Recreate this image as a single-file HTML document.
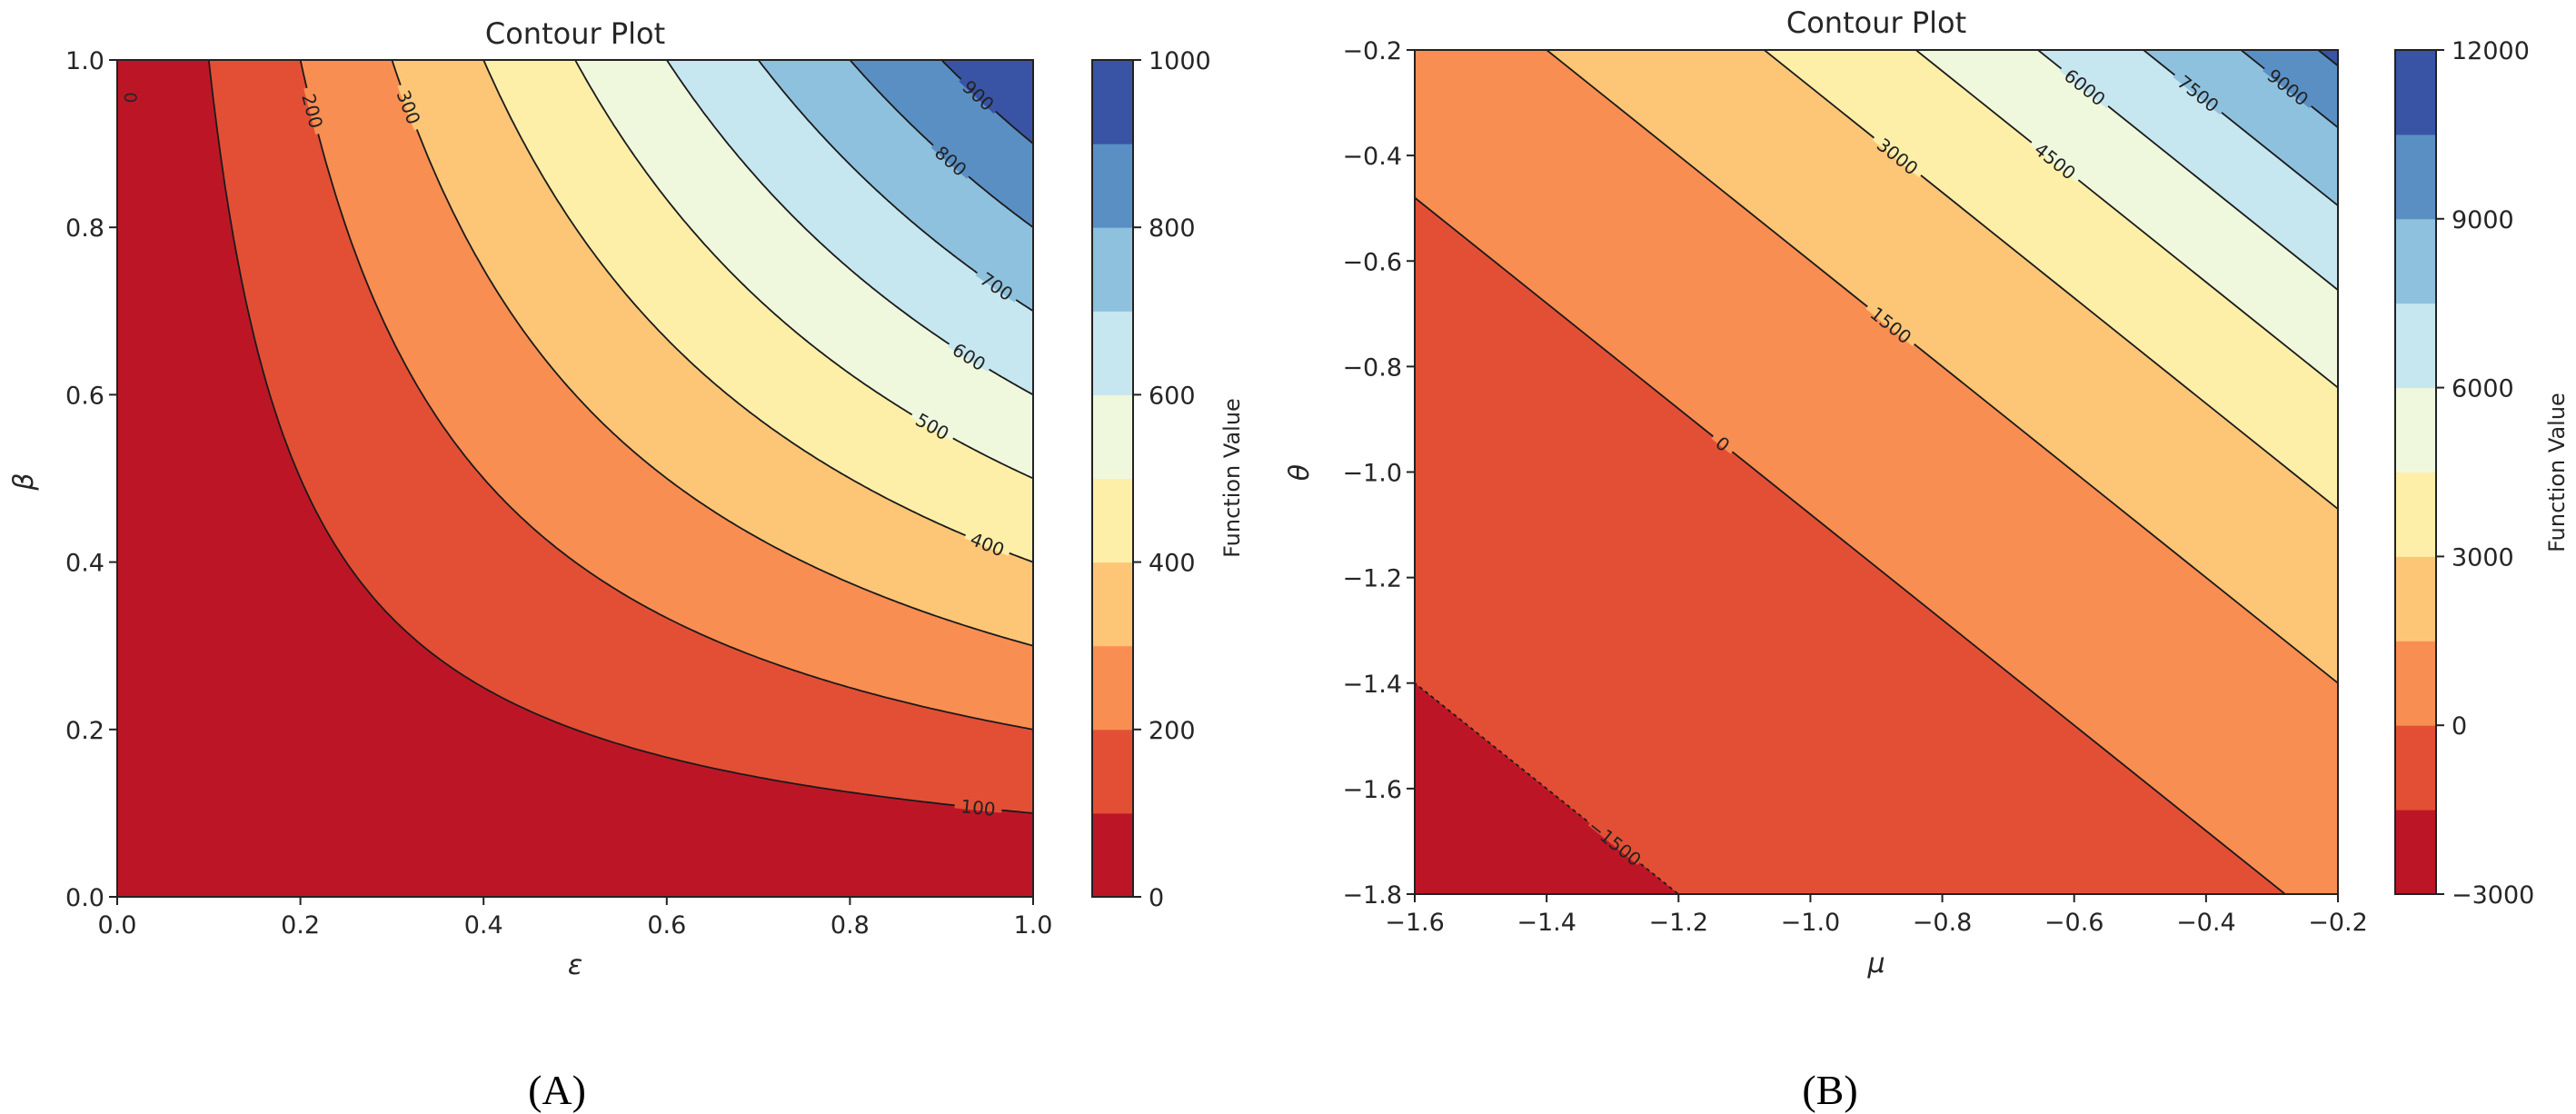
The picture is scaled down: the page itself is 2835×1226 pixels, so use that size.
<!DOCTYPE html>
<html><head><meta charset="utf-8"><style>
html,body{margin:0;padding:0;background:#fff;width:2835px;height:1226px;overflow:hidden;}
svg{display:block;font-family:"DejaVu Sans","Liberation Sans",sans-serif;}
</style></head><body>
<svg id="fig" width="2835" height="1226" viewBox="0 0 2835 1226" xmlns="http://www.w3.org/2000/svg"></svg>
<script>
// ---- shared colour bands (RdYlBu, 10 bands) ----
const bandColors = ["#bc1626","#e34f35","#f98e52","#fdc677","#feefa8","#eff8dd","#c6e6f0","#8ec1de","#5a8fc4","#3953a5"];
// ---- Panel A data: f = coefA * eps * beta ----
const levelsA = [0,100,200,300,400,500,600,700,800,900,1000];
const coefA = 1000;
const lineLevelsA = [100,200,300,400,500,600,700,800,900];
const labelLevelsA = [100,200,300,400,500,600,700,800,900];
const labelEpsA = [0.94,0.213,0.318,0.95,0.89,0.93,0.96,0.91,0.94];
const xTicksA = [0,0.2,0.4,0.6,0.8,1.0];
const xTickLabelsA = ["0.0","0.2","0.4","0.6","0.8","1.0"];
const yTicksA = [0,0.2,0.4,0.6,0.8,1.0];
const yTickLabelsA = ["0.0","0.2","0.4","0.6","0.8","1.0"];
const cbTicksA = [0,200,400,600,800,1000];
// ---- Panel B data: contours are lines of constant s = mu + theta ----
const levelsB = [-3000,-1500,0,1500,3000,4500,6000,7500,9000,10500,12000];
const lineLevelsB = [-1500,0,1500,3000,4500,6000,7500,9000,10500];
const lineSB = [-3.0,-2.08,-1.6,-1.27,-1.04,-0.855,-0.695,-0.547,-0.43];
const labelLevelsB = [-1500,0,1500,3000,4500,6000,7500,9000];
const labelMuB = [-1.297,-1.133,-0.878,-0.868,-0.629,-0.584,-0.412,-0.276];
const xTicksB = [-1.6,-1.4,-1.2,-1.0,-0.8,-0.6,-0.4,-0.2];
const xTickLabelsB = ["\u22121.6","\u22121.4","\u22121.2","\u22121.0","\u22120.8","\u22120.6","\u22120.4","\u22120.2"];
const yTicksB = [-1.8,-1.6,-1.4,-1.2,-1.0,-0.8,-0.6,-0.4,-0.2];
const yTickLabelsB = ["\u22121.8","\u22121.6","\u22121.4","\u22121.2","\u22121.0","\u22120.8","\u22120.6","\u22120.4","\u22120.2"];
const cbTicksB = [-3000,0,3000,6000,9000,12000];
const cbTickLabelsB = ["\u22123000","0","3000","6000","9000","12000"];

const NS="http://www.w3.org/2000/svg";
const svg=document.getElementById('fig');
function mk(tag,attrs,parent){const e=document.createElementNS(NS,tag);for(const k in attrs)e.setAttribute(k,attrs[k]);(parent||svg).appendChild(e);return e;}
function txt(s,x,y,size,anchor,parent,extra){const t=mk('text',Object.assign({x:x,y:y,'font-size':size,'text-anchor':anchor||'middle',fill:'#262626'},extra||{}),parent);t.textContent=s;return t;}
function bandColor(levels,v){for(let i=0;i<levels.length-1;i++){if(v<levels[i+1])return bandColors[i];}return bandColors[bandColors.length-1];}

// ================= Panel A =================
const A={x0:129,x1:1137,y0:66,y1:987,xmin:0,xmax:1,ymin:0,ymax:1};
const xA=v=>A.x0+(v-A.xmin)/(A.xmax-A.xmin)*(A.x1-A.x0);
const yA=v=>A.y1-(v-A.ymin)/(A.ymax-A.ymin)*(A.y1-A.y0);
const gA=mk('g',{});


const clipA=mk('clipPath',{id:'clipA'},gA);mk('rect',{x:A.x0,y:A.y0,width:A.x1-A.x0,height:A.y1-A.y0},clipA);
const fillA=mk('g',{'clip-path':'url(#clipA)'},gA);


mk('rect',{x:A.x0,y:A.y0,width:A.x1-A.x0,height:A.y1-A.y0,fill:bandColors[9]},fillA);
function curveA(L){const pts=[];const e0=Math.max(L/coefA,1e-4);const N=200;for(let i=0;i<=N;i++){const e=e0+(1-e0)*i/N;pts.push([e,Math.min(1,L/(coefA*e))]);}return pts;}
for(let k=lineLevelsA.length-1;k>=0;k--){
  const L=lineLevelsA[k];const pts=curveA(L);
  let d=`M${xA(0)},${yA(0)} L${xA(0)},${yA(1)}`;
  pts.forEach(p=>{d+=` L${xA(p[0]).toFixed(1)},${yA(p[1]).toFixed(1)}`;});
  d+=` L${xA(1)},${yA(0)} Z`;
  const p=mk('path',{d:d,fill:bandColor(levelsA,L-1)},fillA);
  
  
}
for(let k=0;k<lineLevelsA.length;k++){
  const L=lineLevelsA[k];const pts=curveA(L);
  const d='M'+pts.map(p=>xA(p[0]).toFixed(1)+','+yA(p[1]).toFixed(1)).join(' L');
  const p=mk('path',{d:d,fill:'none',stroke:'#1a1a1a','stroke-width':1.8},fillA);
  
  
}
for(let k=0;k<labelLevelsA.length;k++){
  const L=labelLevelsA[k],e=labelEpsA[k],b=L/(coefA*e);
  const px=xA(e),py=yA(b);
  const dx=xA(e+0.01)-xA(e),dy=yA(L/(coefA*(e+0.01)))-py;
  const ang=Math.atan2(dy,dx)*180/Math.PI;
  mk('rect',{x:px-26,y:py-3,width:52,height:6,fill:bandColor(levelsA,L+1),transform:`rotate(${ang} ${px} ${py})`},fillA);
  const t=txt(String(L),px,py+7,20,'middle',fillA,{transform:`rotate(${ang} ${px} ${py})`,fill:'#222'});
  
  
}
{const t=txt('0',xA(0.008),yA(0.955),19,'middle',fillA,{transform:`rotate(90 ${xA(0.008)} ${yA(0.955)})`});

}
const frA=mk('rect',{x:A.x0,y:A.y0,width:A.x1-A.x0,height:A.y1-A.y0,fill:'none',stroke:'#222','stroke-width':2},gA);


xTicksA.forEach((v,i)=>{mk('line',{x1:xA(v),x2:xA(v),y1:A.y1,y2:A.y1+9,stroke:'#222','stroke-width':2},gA);
  const t=txt(xTickLabelsA[i],xA(v),A.y1+40,27,'middle',gA);
  
  });
yTicksA.forEach((v,i)=>{mk('line',{x1:A.x0-9,x2:A.x0,y1:yA(v),y2:yA(v),stroke:'#222','stroke-width':2},gA);
  const t=txt(yTickLabelsA[i],A.x0-14,yA(v)+10,27,'end',gA);
  
  });
{const t=txt('Contour Plot',(A.x0+A.x1)/2,48,32,'middle',gA);}
{const t=txt('\u03b5',(A.x0+A.x1)/2,1072,30,'middle',gA,{'font-style':'italic'});}
{const t=txt('\u03b2',36,530,30,'middle',gA,{'font-style':'italic',transform:'rotate(-90 36 530)'});}
// colorbar A
const CA={x0:1202,x1:1247,y0:66,y1:987};
const cyA=v=>CA.y1-(v-levelsA[0])/(levelsA[levelsA.length-1]-levelsA[0])*(CA.y1-CA.y0);
const cbA=mk('g',{},gA);
for(let i=0;i<levelsA.length-1;i++){mk('rect',{x:CA.x0,y:cyA(levelsA[i+1]),width:CA.x1-CA.x0,height:cyA(levelsA[i])-cyA(levelsA[i+1])+0.5,fill:bandColors[i]},cbA);}
mk('rect',{x:CA.x0,y:CA.y0,width:CA.x1-CA.x0,height:CA.y1-CA.y0,fill:'none',stroke:'#222','stroke-width':2},cbA);
cbTicksA.forEach(v=>{mk('line',{x1:CA.x1,x2:CA.x1+9,y1:cyA(v),y2:cyA(v),stroke:'#222','stroke-width':2},cbA);
  const t=txt(String(v),CA.x1+17,cyA(v)+10,27,'start',cbA);});
{const t=txt('Function Value',1364,526,24,'middle',cbA,{transform:'rotate(-90 1364 526)'});}
{const t=mk('text',{x:613,y:1215,'font-size':46,'text-anchor':'middle',fill:'#000','font-family':'Liberation Serif, serif'},gA);t.textContent='(A)';}

// ================= Panel B =================
const B={x0:1557,x1:2573,y0:55,y1:984,xmin:-1.6,xmax:-0.2,ymin:-1.8,ymax:-0.2};
const xB=v=>B.x0+(v-B.xmin)/(B.xmax-B.xmin)*(B.x1-B.x0);
const yB=v=>B.y1-(v-B.ymin)/(B.ymax-B.ymin)*(B.y1-B.y0);
const gB=mk('g',{});


const clipB=mk('clipPath',{id:'clipB'},gB);mk('rect',{x:B.x0,y:B.y0,width:B.x1-B.x0,height:B.y1-B.y0},clipB);
const fillB=mk('g',{'clip-path':'url(#clipB)'},gB);


mk('rect',{x:B.x0,y:B.y0,width:B.x1-B.x0,height:B.y1-B.y0,fill:bandColors[9]},fillB);
function lineEnds(s){const m0=B.xmin-1,m1=B.xmax+1;return [[m0,s-m0],[m1,s-m1]];}
for(let k=lineLevelsB.length-1;k>=0;k--){
  const s=lineSB[k],e=lineEnds(s);
  const d=`M${xB(e[0][0])},${yB(e[0][1])} L${xB(e[1][0])},${yB(e[1][1])} L${xB(B.xmin-1)},${yB(e[1][1])} Z`;
  const p=mk('path',{d:d,fill:bandColor(levelsB,lineLevelsB[k]-1)},fillB);
  
  
}
for(let k=0;k<lineLevelsB.length;k++){
  const s=lineSB[k],e=lineEnds(s);
  const attrs={x1:xB(e[0][0]),y1:yB(e[0][1]),x2:xB(e[1][0]),y2:yB(e[1][1]),stroke:'#1a1a1a','stroke-width':1.8};
  if(lineLevelsB[k]<0)attrs['stroke-dasharray']='4 4';
  const l=mk('line',attrs,fillB);
  
  
}
const angB=Math.atan2(yB(-1)-yB(0),xB(1)-xB(0))*180/Math.PI;
for(let k=0;k<labelLevelsB.length;k++){
  const L=labelLevelsB[k],s=lineSB[lineLevelsB.indexOf(L)],m=labelMuB[k];
  const px=xB(m),py=yB(s-m);
  const w=L<0?70:(String(L).length*13+14);
  mk('rect',{x:px-w/2,y:py-3,width:w,height:6,fill:bandColor(levelsB,L+1),transform:`rotate(${angB} ${px} ${py})`},fillB);
  const t=txt(L<0?'\u2212'+Math.abs(L):String(L),px,py+7,20,'middle',fillB,{transform:`rotate(${angB} ${px} ${py})`,fill:'#222'});
  
  
}
const frB=mk('rect',{x:B.x0,y:B.y0,width:B.x1-B.x0,height:B.y1-B.y0,fill:'none',stroke:'#222','stroke-width':2},gB);


xTicksB.forEach((v,i)=>{mk('line',{x1:xB(v),x2:xB(v),y1:B.y1,y2:B.y1+9,stroke:'#222','stroke-width':2},gB);
  const t=txt(xTickLabelsB[i],xB(v),B.y1+40,27,'middle',gB);});
yTicksB.forEach((v,i)=>{mk('line',{x1:B.x0-9,x2:B.x0,y1:yB(v),y2:yB(v),stroke:'#222','stroke-width':2},gB);
  const t=txt(yTickLabelsB[i],B.x0-14,yB(v)+10,27,'end',gB);});
{const t=txt('Contour Plot',(B.x0+B.x1)/2,36,32,'middle',gB);}
{const t=txt('\u03bc',(B.x0+B.x1)/2,1070,30,'middle',gB,{'font-style':'italic'});}
{const t=txt('\u03b8',1440,520,30,'middle',gB,{'font-style':'italic',transform:'rotate(-90 1440 520)'});}
const CB={x0:2636,x1:2681,y0:55,y1:984};
const cyB=v=>CB.y1-(v-levelsB[0])/(levelsB[levelsB.length-1]-levelsB[0])*(CB.y1-CB.y0);
const cbB=mk('g',{},gB);
for(let i=0;i<levelsB.length-1;i++){mk('rect',{x:CB.x0,y:cyB(levelsB[i+1]),width:CB.x1-CB.x0,height:cyB(levelsB[i])-cyB(levelsB[i+1])+0.5,fill:bandColors[i]},cbB);}
mk('rect',{x:CB.x0,y:CB.y0,width:CB.x1-CB.x0,height:CB.y1-CB.y0,fill:'none',stroke:'#222','stroke-width':2},cbB);
cbTicksB.forEach((v,i)=>{mk('line',{x1:CB.x1,x2:CB.x1+9,y1:cyB(v),y2:cyB(v),stroke:'#222','stroke-width':2},cbB);
  const t=txt(cbTickLabelsB[i],CB.x1+17,cyB(v)+10,27,'start',cbB);});
{const t=txt('Function Value',2822,520,24,'middle',cbB,{transform:'rotate(-90 2822 520)'});}
{const t=mk('text',{x:2014,y:1215,'font-size':46,'text-anchor':'middle',fill:'#000','font-family':'Liberation Serif, serif'},gB);t.textContent='(B)';}
</script>
</body></html>
